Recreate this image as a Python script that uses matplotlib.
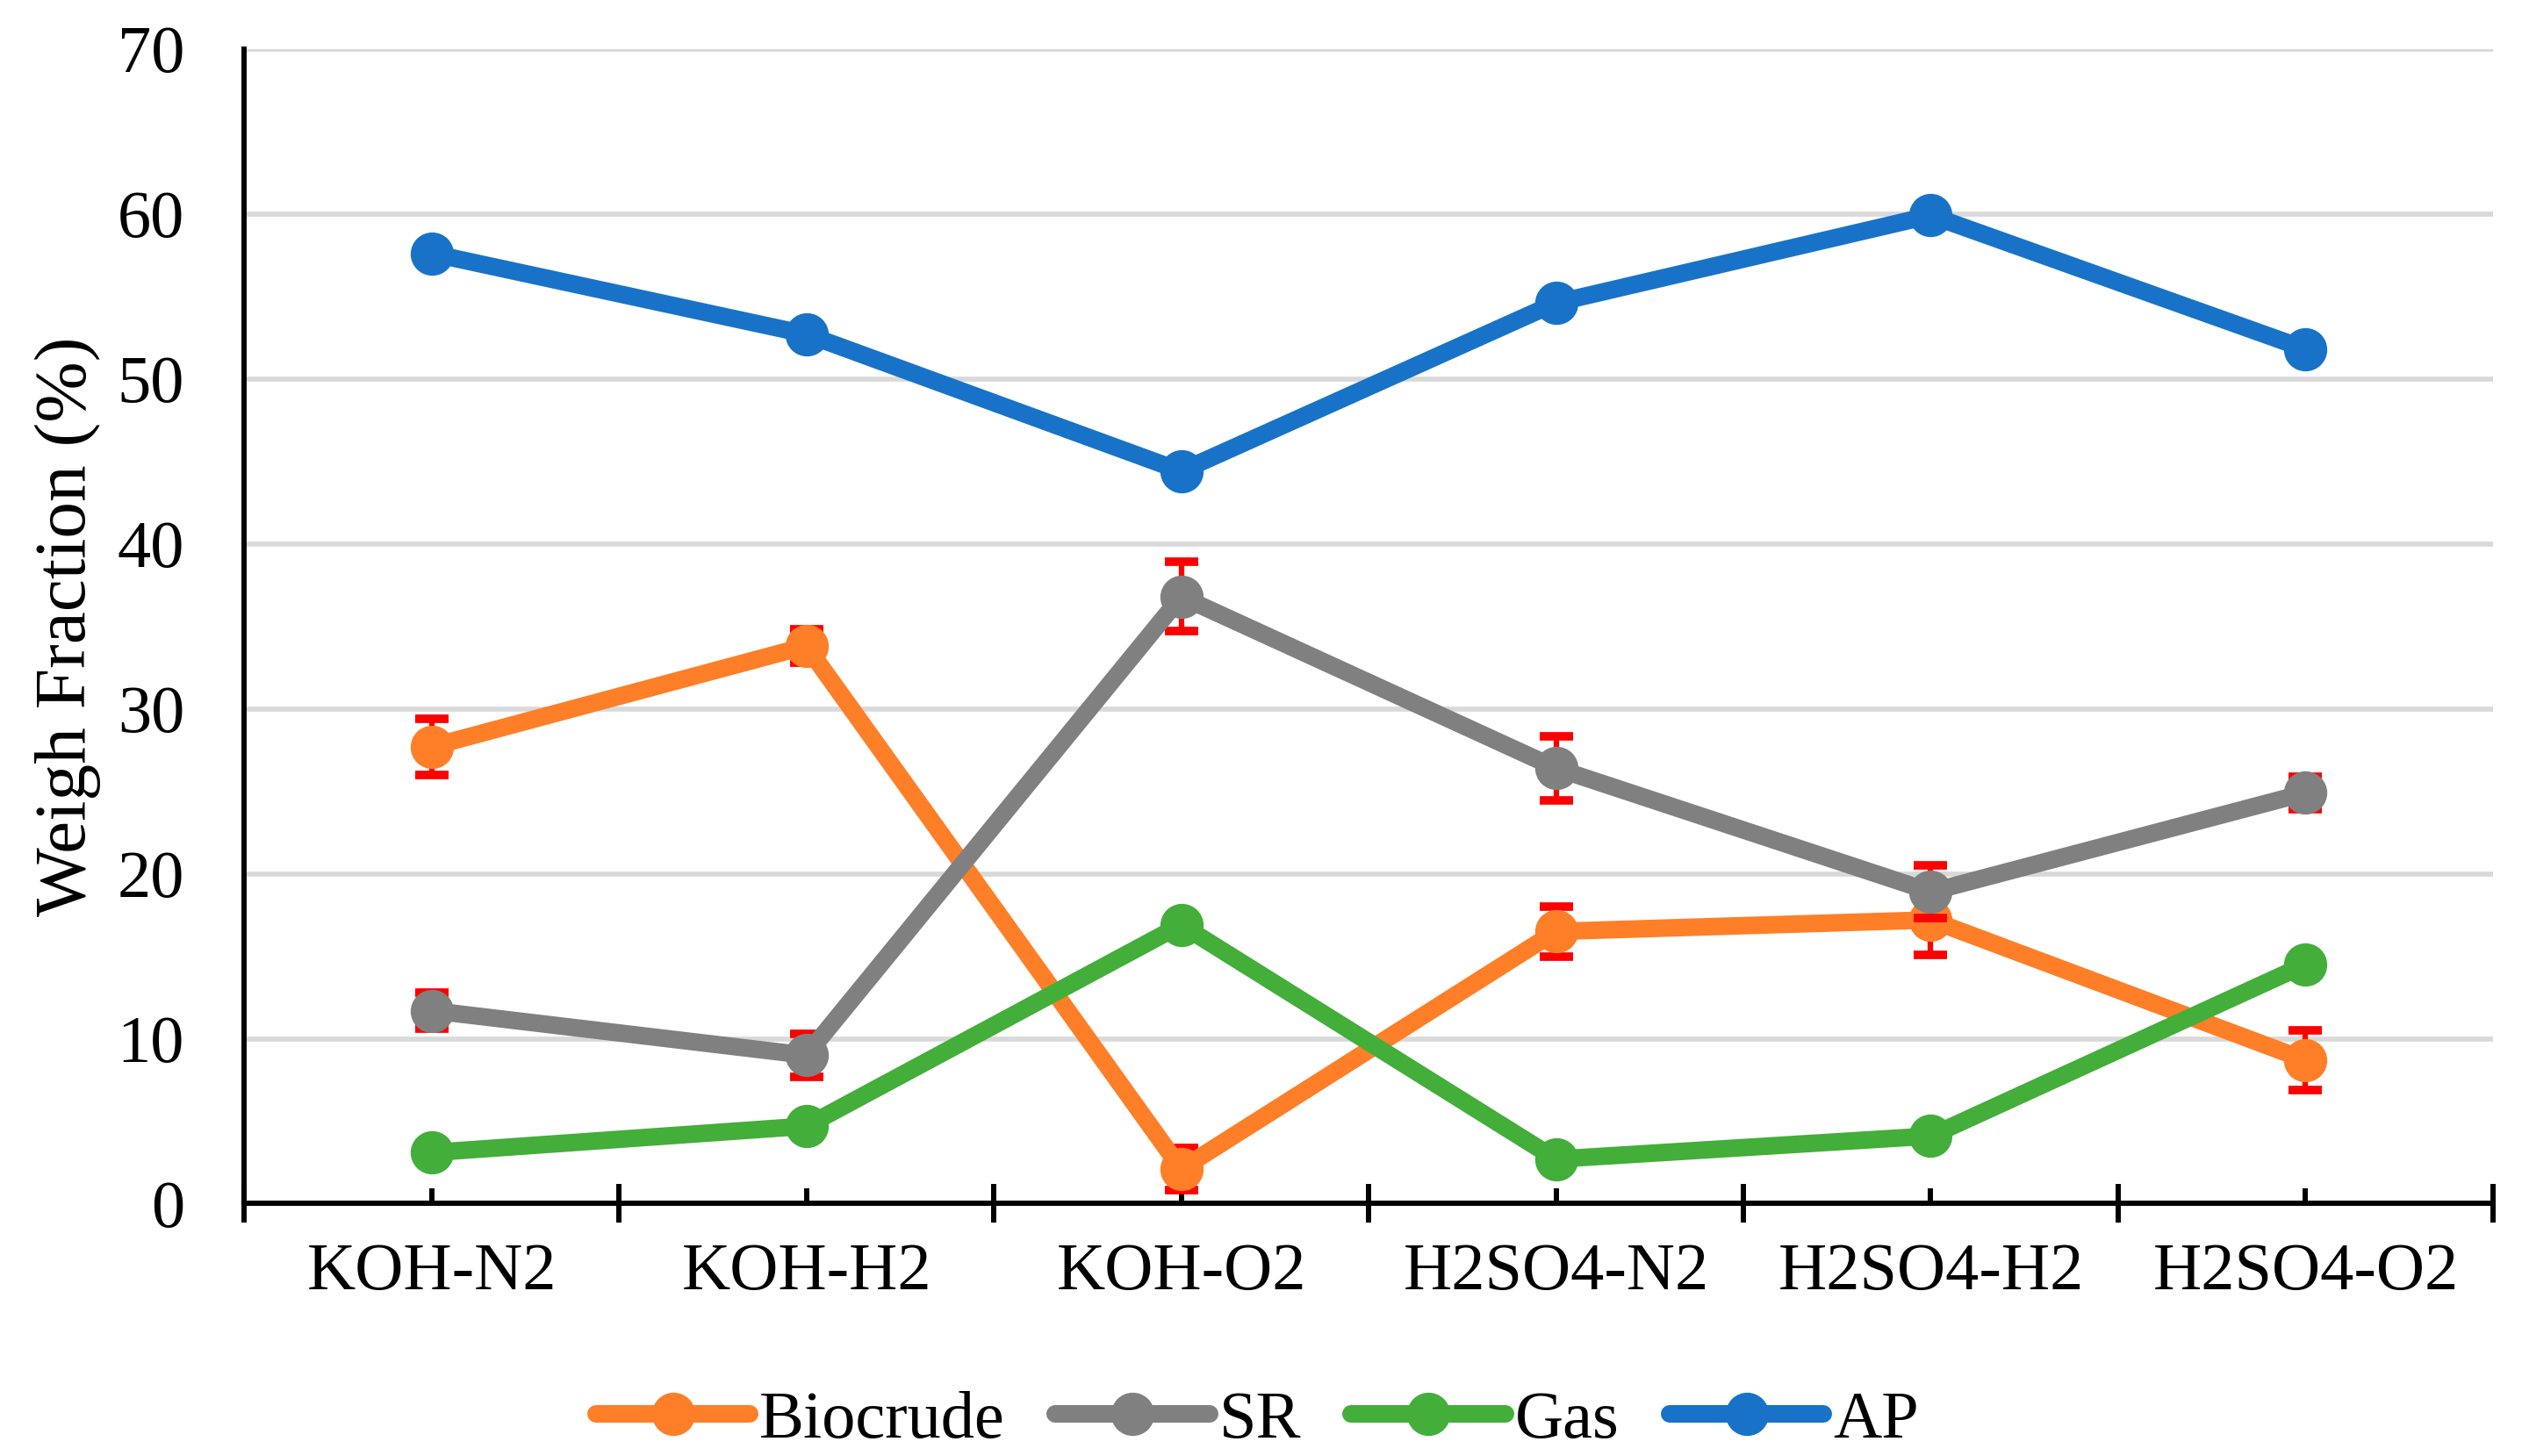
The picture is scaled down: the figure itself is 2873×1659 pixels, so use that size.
import numpy as np
import matplotlib
matplotlib.use('Agg')
import matplotlib.pyplot as plt
from matplotlib.ticker import FixedLocator

plt.rcParams['font.family'] = ['Liberation Serif', 'DejaVu Serif']

categories = ['KOH-N2', 'KOH-H2', 'KOH-O2', 'H2SO4-N2', 'H2SO4-H2', 'H2SO4-O2']
biocrude = [27.7, 33.8, 2.1, 16.5, 17.2, 8.7]
biocrude_err = [1.7, 1.0, 1.3, 1.5, 2.1, 1.8]
sr = [11.7, 9.0, 36.8, 26.4, 18.9, 24.9]
sr_err = [1.1, 1.3, 2.1, 1.95, 1.6, 1.0]
gas = [3.1, 4.7, 16.9, 2.7, 4.1, 14.5]
ap = [57.6, 52.7, 44.4, 54.6, 59.9, 51.8]

colors = {'Biocrude': '#FE7F27', 'SR': '#808080', 'Gas': '#43AE3A', 'AP': '#1873C8'}

fig = plt.figure(figsize=(28.73, 16.59), dpi=100)
ax = fig.add_axes([0.0968, 0.1733, 0.9885 - 0.0968, 0.9665 - 0.1733])

x = np.arange(len(categories))
lw = 14.4
ms = 34.5

series = [('Biocrude', biocrude, biocrude_err),
          ('SR', sr, sr_err),
          ('Gas', gas, None),
          ('AP', ap, None)]

for i, (name, vals, err) in enumerate(series):
    z = 3 + i
    if err is not None:
        ax.errorbar(x, vals, yerr=err, fmt='none', ecolor='#FF0000',
                    elinewidth=4.5, capsize=13.7, capthick=7, zorder=z - 0.5)
    ax.plot(x, vals, color=colors[name], lw=lw, marker='o', ms=ms,
            label=name, zorder=z, solid_capstyle='round')

ax.set_xlim(-0.5, len(categories) - 0.5)
ax.set_ylim(0, 70)
ax.set_yticks(range(0, 71, 10))
ax.yaxis.grid(True, color='#D9D9D9', lw=4.1)
ax.set_axisbelow(True)

ax.set_xticks(x)
ax.set_xticklabels(categories)
ax.xaxis.set_minor_locator(FixedLocator(np.arange(-0.5, len(categories), 1.0)))
ax.tick_params(axis='x', which='major', direction='in', length=12, width=4.3,
               pad=32, labelsize=55)
ax.tick_params(axis='x', which='minor', direction='inout', length=32, width=4.3)
ax.tick_params(axis='y', which='both', length=0, pad=49, labelsize=55)

for s in ['top', 'right']:
    ax.spines[s].set_visible(False)
for s in ['left', 'bottom']:
    ax.spines[s].set_linewidth(4.3)
    ax.spines[s].set_color('black')

ax.set_ylabel('Weigh Fraction (%)', fontsize=60)
ax.yaxis.set_label_coords(-0.0636, 0.5)

leg = fig.legend(loc='center', bbox_to_anchor=(0.4985, 0.024), ncol=4,
                 frameon=False, fontsize=55, handlelength=2.3,
                 handletextpad=0.14, columnspacing=0.75, borderpad=0)

fig.savefig('out.png', dpi=100)
